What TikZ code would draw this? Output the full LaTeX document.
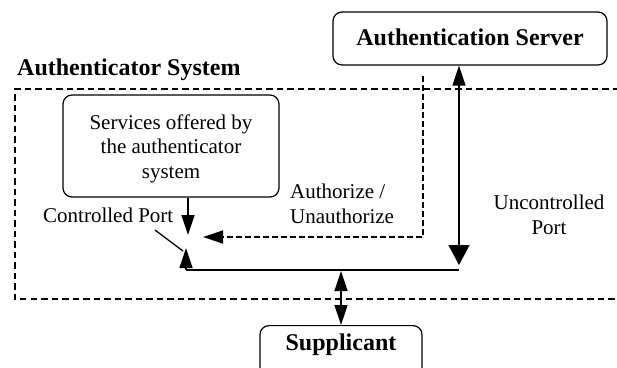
\documentclass[tikz,border=0pt]{standalone}
\usepackage{fontspec}
\setmainfont{Liberation Serif}
\usetikzlibrary{arrows.meta}
\begin{document}
\begin{tikzpicture}[x=1pt,y=-1pt,
  box/.style={draw,line width=1.2pt,rounded corners=9pt,inner sep=0pt},
  lbl/.style={font=\fontsize{21}{24.5}\selectfont,inner sep=0pt},
  blbl/.style={font=\fontsize{24}{28}\selectfont\bfseries,inner sep=0pt},
  link/.style={line width=1.3pt},
  tipA/.style={-{Triangle[length=20pt,width=13pt]}},
  sysframe/.style={line width=2pt,dash pattern=on 6.5pt off 4pt},
  authlink/.style={line width=1.3pt,dash pattern=on 6pt off 3pt}]
\useasboundingbox (0,0) rectangle (617,367);
\clip (0,0) rectangle (617,367);

% authenticator system frame (open on the right)
\draw[sysframe] (640,89) -- (15,89) -- (15,299) -- (640,299);
\node[blbl,anchor=base west] (systitle) at (17,75) {Authenticator System};

% boxes
\node[box,minimum width=274pt,minimum height=53pt] (as) at (470,38.5) {};
\node[blbl,anchor=base] (astext) at (470,45) {Authentication Server};

\node[box,minimum width=216pt,minimum height=102pt] (serv) at (171,146) {};
% multi-line nodes: the base anchor sits on the last line
\node[lbl,anchor=base,align=center] (servtext) at (171,178)
  {Services offered by\\the authenticator\\system};

\node[box,minimum width=162pt,minimum height=70pt,anchor=north] (supp) at (341,325) {};
\node[blbl,anchor=base] (supptext) at (341,350) {Supplicant};

% labels
\node[lbl,anchor=base west] (ctllbl) at (43,222) {Controlled Port};
\node[lbl,anchor=base west,align=left] (authlbl) at (290,223) {Authorize /\\Unauthorize};
\node[lbl,anchor=base,align=center] (unclbl) at (549,234) {Uncontrolled\\Port};

% controlled port switch
\coordinate (ctlin) at (188,235);
\coordinate (ctlout) at (186,248);
\coordinate (sw1) at (155,230);
\coordinate (sw2) at (183,251);
\coordinate (busl) at (186,270);
\coordinate (busr) at (459,270);
\coordinate (uncin) at (459,265);
\coordinate (authend) at (203,237);
\coordinate (authcorner) at (423,237);
\coordinate (supptap) at (341,271);

\draw[link,tipA] (serv.south -| ctlin) -- (ctlin);
\draw[link] (sw1) -- (sw2);
\draw[link,tipA] (busl) -- (ctlout);
\draw[line width=2pt] (busl) -- (busr);

% uncontrolled port
\draw[link,{Triangle[length=20pt,width=13pt]}-{Triangle[length=20pt,width=21pt]}]
  (as.south -| uncin) -- (uncin);

% authorize / unauthorize control
\draw[authlink,tipA] (as.south -| authcorner) ++(0,10) -- (authcorner) -- (authend);

% supplicant link
\draw[link,{Triangle[length=20pt,width=13pt]}-{Triangle[length=20pt,width=13pt]}]
  (supptap) -- (supp.north);
\end{tikzpicture}
\end{document}
